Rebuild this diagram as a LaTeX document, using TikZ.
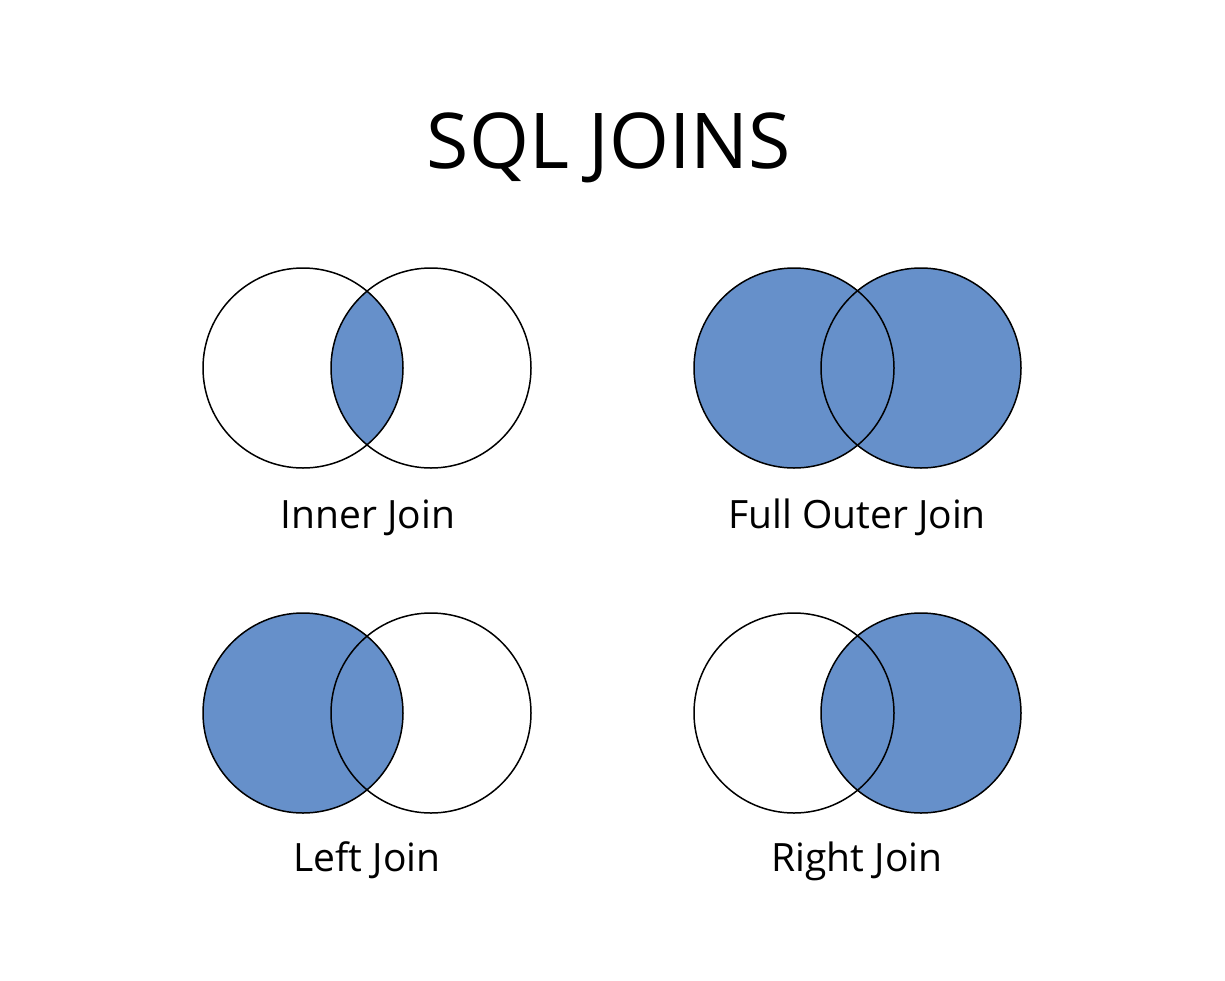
\documentclass[tikz,border=0pt]{standalone}
\usepackage{fontspec}
\setmainfont{Open Sans}
\definecolor{joinblue}{RGB}{102,144,202}
\tikzset{
  venn/.style={draw=black, line width=1.5pt},
  lbl/.style={anchor=base, inner sep=0pt, font=\fontsize{39}{44}\selectfont},
}
\begin{document}
\begin{tikzpicture}[x=1pt,y=-1pt]
\useasboundingbox[fill=white] (0,0) rectangle (1225,980);
\def\r{100}
% title
\node[anchor=base, inner sep=0pt, font=\fontsize{77}{80}\selectfont] (title) at (609,168) {SQL JOINS};
% Inner join
\coordinate (ia) at (303,368);
\coordinate (ib) at (431,368);
\begin{scope}
  \clip (ia) circle (\r);
  \fill[joinblue] (ib) circle (\r);
\end{scope}
\draw[venn] (ia) circle (\r);
\draw[venn] (ib) circle (\r);
\node[lbl] (inner) at (368,528) {Inner Join};
% Full outer join
\coordinate (fa) at (794,368);
\coordinate (fb) at (921,368);
\fill[joinblue] (fa) circle (\r);
\fill[joinblue] (fb) circle (\r);
\draw[venn] (fa) circle (\r);
\draw[venn] (fb) circle (\r);
\node[lbl] (full) at (857,528) {Full Outer Join};
% Left join
\coordinate (la) at (303,713);
\coordinate (lb) at (431,713);
\fill[joinblue] (la) circle (\r);
\draw[venn] (la) circle (\r);
\draw[venn] (lb) circle (\r);
\node[lbl] (left) at (367,871) {Left Join};
% Right join
\coordinate (ra) at (794,713);
\coordinate (rb) at (921,713);
\fill[joinblue] (rb) circle (\r);
\draw[venn] (ra) circle (\r);
\draw[venn] (rb) circle (\r);
\node[lbl] (right) at (857,871) {Right Join};
\end{tikzpicture}
\end{document}
